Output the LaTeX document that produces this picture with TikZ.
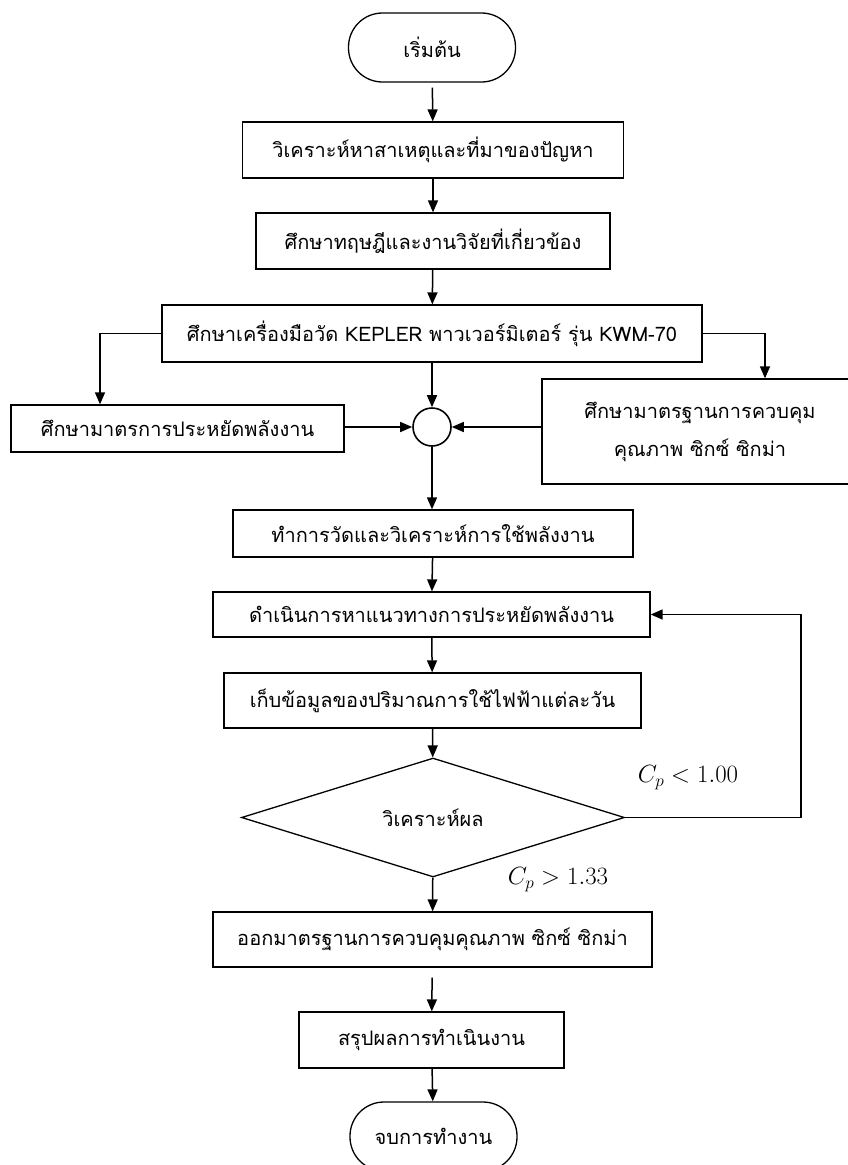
\documentclass[tikz,border=0pt]{standalone}
\usepackage{fontspec}
\setmainfont[Script=Thai]{Loma}
\usetikzlibrary{shapes.geometric,arrows.meta}
\tikzset{
  procbox/.style={draw=black, line width=1.3pt, inner sep=0pt, align=center, font=\fontsize{20}{24}\selectfont},
  termbox/.style={draw=black, line width=1.3pt, inner sep=0pt, rounded corners=34pt, font=\fontsize{20}{24}\selectfont},
  decbox/.style={draw=black, line width=1.3pt, diamond, inner sep=0pt, font=\fontsize{20}{24}\selectfont},
  joinc/.style={draw=black, line width=1.6pt, circle, inner sep=0pt, minimum size=38pt},
  flow/.style={line width=1.5pt, -{Triangle[length=12pt,width=10pt]}},
  cond/.style={font=\fontsize{23}{23}\selectfont}
}
\begin{document}
\begin{tikzpicture}[x=1pt,y=-1pt]
\useasboundingbox (0,0) rectangle (848,1165);
\node[termbox, minimum width=167pt, minimum height=69pt] (start) at (432,47.5) {เริ่มต้น};
\node[procbox, minimum width=381pt, minimum height=56pt] (b1) at (433,150) {วิเคราะห์หาสาเหตุและที่มาของปัญหา};
\node[procbox, minimum width=354pt, minimum height=56pt] (b2) at (433,241) {ศึกษาทฤษฎีและงานวิจัยที่เกี่ยวข้อง};
\node[procbox, minimum width=540pt, minimum height=57pt] (b3) at (432,333.5) {ศึกษาเครื่องมือวัด KEPLER พาวเวอร์มิเตอร์ รุ่น KWM-70};
\node[procbox, minimum width=333pt, minimum height=47pt] (b4) at (177.5,428.5) {ศึกษามาตรการประหยัดพลังงาน};
\node[joinc] (jn) at (432,427) {};
\node[procbox, minimum width=316pt, minimum height=105pt] (rb) at (700,431.5) {ศึกษามาตรฐานการควบคุม\\[14pt]คุณภาพ ซิกซ์ ซิกม่า};
\node[procbox, minimum width=400pt, minimum height=47pt] (b5) at (433,533.5) {ทำการวัดและวิเคราะห์การใช้พลังงาน};
\node[procbox, minimum width=437pt, minimum height=45pt] (b6) at (431.5,614.5) {ดำเนินการหาแนวทางการประหยัดพลังงาน};
\node[procbox, minimum width=417pt, minimum height=55pt] (b7) at (432.5,700.5) {เก็บข้อมูลของปริมาณการใช้ไฟฟ้าแต่ละวัน};
\node[decbox, minimum width=383pt, minimum height=111pt] (dec) at (433,817.5) {วิเคราะห์ผล};
\node[procbox, minimum width=439pt, minimum height=55pt] (b8) at (432.5,939.5) {ออกมาตรฐานการควบคุมคุณภาพ ซิกซ์ ซิกม่า};
\node[procbox, minimum width=265pt, minimum height=56pt] (b9) at (431.5,1040) {สรุปผลการทำเนินงาน};
\node[termbox, minimum width=167pt, minimum height=69pt] (end) at (433.5,1136.5) {จบการทำงาน};
\node[cond] (lt) at (688,778) {$C_p < 1.00$};
\node[cond] (gt) at (558,880) {$C_p >1.33$};
\coordinate (lb) at (100,333.5);
\coordinate (rbc) at (765,333.5);
\coordinate (fb1) at (801,817.5);
\coordinate (fb2) at (801,614.5);
\draw[flow, shorten <=5pt] (start) -- (b1);
\draw[flow] (b1) -- (b2);
\draw[flow] (b2) -- (b3);
\draw[flow] (b3.south) -- (jn.north);
\draw[flow] (b3.west) -- (lb) -- (b4.north -| lb);
\draw[flow] (b3.east) -- (rbc) -- (rb.north -| rbc);
\draw[flow] (b4.east |- jn) -- (jn.west);
\draw[flow] (rb.west |- jn) -- (jn.east);
\draw[flow] (jn.south) -- (b5.north -| jn);
\draw[flow] (b5) -- (b6);
\draw[flow] (b6) -- (b7);
\draw[flow] (b7) -- (dec);
\draw[flow] (dec) -- (b8);
\draw[flow, shorten <=10pt] (b8) -- (b9);
\draw[flow] (b9) -- (end);
\draw[flow] (dec.east) -- (fb1) -- (fb2) -- (b6.east);
\end{tikzpicture}
\end{document}
